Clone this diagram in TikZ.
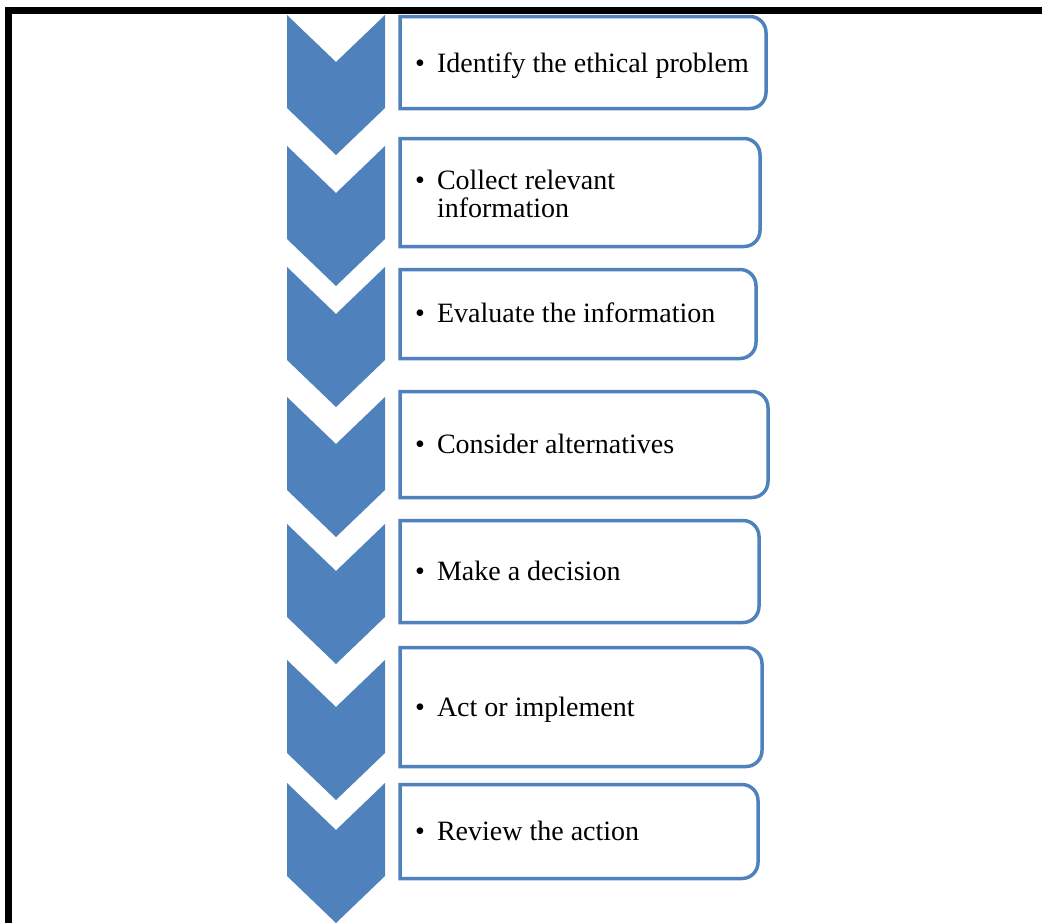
\documentclass[tikz,border=0pt]{standalone}
\usepackage{fontspec}
\setmainfont{Liberation Serif}
\definecolor{officeblue}{HTML}{4F81BD}
\tikzset{
  chevronfill/.style={fill=officeblue, draw=none},
  boxline/.style={draw=officeblue, line width=3.5pt, fill=white},
  frameline/.style={draw=black, line width=6.5pt},
  steplabel/.style={anchor=base west, inner sep=0pt, outer sep=0pt, text=black,
     font=\fontsize{28}{28}\selectfont},
}
% chevron with top at #1
\newcommand{\mychevron}[1]{%
  \fill[chevronfill] (287,#1) -- (336,#1+47) -- (385,#1) -- (385,#1+93)
     -- (336,#1+140) -- (287,#1+93) -- cycle;}
% box: name, top, bottom, right
\newcommand{\mybox}[4]{%
  \draw[boxline] (400,#2) -- (#4-16,#2) arc[start angle=-90,end angle=0,radius=16]
     -- (#4,#3-16) arc[start angle=0,end angle=90,radius=16] -- (400,#3) -- cycle;
  \node[inner sep=0pt, minimum width=#4-400, minimum height=#3-#2, anchor=north west]
     (#1) at (400,#2) {};}
\begin{document}
\begin{tikzpicture}[x=1pt, y=-1pt]
\clip (0,0) rectangle (1042,922);
\useasboundingbox (0,0) rectangle (1042,922);
\fill[white] (0,0) rectangle (1042,922);
% frame
\draw[frameline] (8.5,940) -- (8.5,10.5) -- (1060,10.5);
% chevrons
\mychevron{15}
\mychevron{146}
\mychevron{267}
\mychevron{397}
\mychevron{524}
\mychevron{660}
\mychevron{783}
% boxes
\mybox{b1}{16.5}{108.5}{766}
\mybox{b2}{138.5}{246.5}{760}
\mybox{b3}{269.5}{358.5}{756}
\mybox{b4}{391.5}{497.5}{768}
\mybox{b5}{520.5}{622.5}{759}
\mybox{b6}{647.5}{766.5}{762}
\mybox{b7}{784.5}{878.5}{758}
% bullets
\node[steplabel] (u1) at (415,72) {•};
\node[steplabel] (u2) at (415,189) {•};
\node[steplabel] (u3) at (415,322) {•};
\node[steplabel] (u4) at (415,453) {•};
\node[steplabel] (u5) at (415,580) {•};
\node[steplabel] (u6) at (415,716) {•};
\node[steplabel] (u7) at (415,840) {•};
% texts
\node[steplabel] (t1) at (437,72) {Identify the ethical problem};
\node[steplabel] (t2) at (437,189) {\begin{tabular}[t]{@{}l@{}}Collect relevant\\information\end{tabular}};
\node[steplabel] (t3) at (437,322) {Evaluate the information};
\node[steplabel] (t4) at (437,453) {Consider alternatives};
\node[steplabel] (t5) at (437,580) {Make a decision};
\node[steplabel] (t6) at (437,716) {Act or implement};
\node[steplabel] (t7) at (437,840) {Review the action};
\end{tikzpicture}
\end{document}
